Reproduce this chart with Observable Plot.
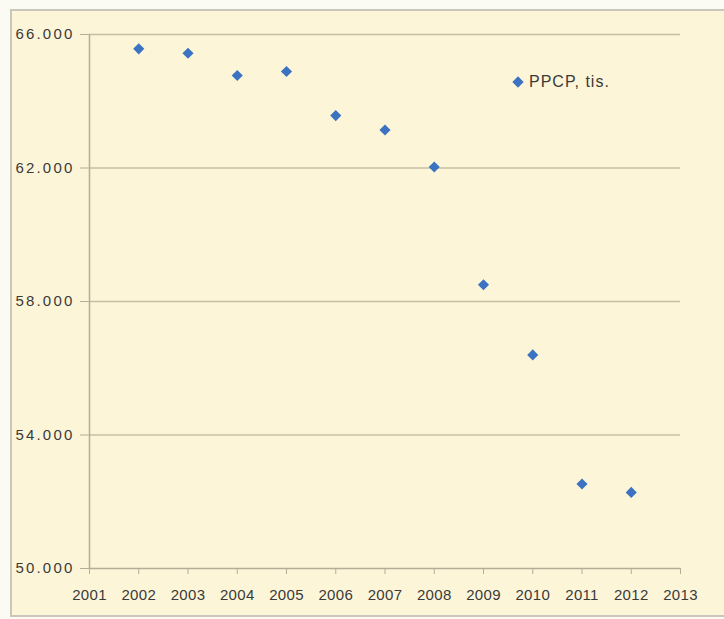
<!DOCTYPE html>
<html>
<head>
<meta charset="utf-8">
<script src="https://cdn.jsdelivr.net/npm/d3@7"></script>
<script src="https://cdn.jsdelivr.net/npm/@observablehq/plot@0.6"></script>
<style>
  html, body { margin: 0; padding: 0; background: #fbfaf3; overflow: hidden; width: 724px; height: 619px; }
  #frame {
    position: absolute; left: 10px; top: 9px;
    width: 712px; height: 604px;
    border: 2px solid #c9c6bb;
    background: #fdf5d8;
  }
  #legend {
    position: absolute; left: 502px; top: 62px;
    font-family: "Liberation Sans", Arial, sans-serif; font-size: 16px; color: #3a3a3a;
    letter-spacing: 1px;
    display: flex; align-items: center;
  }
  #legend .sw {
    display: inline-block; width: 8px; height: 8px; background: #3b73c2;
    transform: rotate(45deg); margin-right: 7px;
  }
  g[aria-label="y-axis tick label"] text { letter-spacing: 2.2px; }
  g[aria-label="x-axis tick label"] text { letter-spacing: 0.3px; }
</style>
</head>
<body>
<div id="frame"><div id="legend"><span class="sw"></span><span>PPCP, tis.</span></div></div>
<script>
const years = [2002, 2003, 2004, 2005, 2006, 2007, 2008, 2009, 2010, 2011, 2012];
const ppcp = [65570, 65440, 64770, 64890, 63570, 63140, 62030, 58500, 56400, 52530, 52280];
const seriesName = "PPCP, tis.";
const xTicks = [2001, 2002, 2003, 2004, 2005, 2006, 2007, 2008, 2009, 2010, 2011, 2012, 2013];
const yTicks = [50000, 54000, 58000, 62000, 66000];
const gridValues = [54000, 58000, 62000, 66000];

const data = years.map((y, i) => ({year: y, value: ppcp[i], series: seriesName}));
const loc = d3.formatLocale({decimal: ",", thousands: ".", grouping: [3], currency: ["", ""]});
const fmt = loc.format(",d");

const chart = Plot.plot({
  width: 712,
  height: 604,
  marginLeft: 77,
  marginTop: 23,
  marginBottom: 47,
  marginRight: 44,
  style: {background: "transparent", fontFamily: "Liberation Sans, Arial, sans-serif", fontSize: "15px", color: "#3a3a3a", overflow: "visible"},
  x: {domain: [2001, 2013], ticks: xTicks, tickFormat: d => String(d), label: null},
  y: {domain: [50000, 66000], ticks: yTicks, tickFormat: fmt, label: null},
  marks: [
    Plot.ruleY(gridValues, {stroke: "#c6bfa6", strokeWidth: 1.5}),
    Plot.ruleY([50000], {stroke: "#b5ad96", strokeWidth: 1.5}),
    Plot.ruleX([2001], {stroke: "#b5ad96", strokeWidth: 1.5}),
    Plot.axisX({ticks: xTicks, tickFormat: d => String(d), tickSize: 6, tickPadding: 15, stroke: "#b5ad96", fill: "#3a3a3a", label: null}),
    Plot.axisY({ticks: yTicks, tickFormat: fmt, tickSize: 9, tickPadding: 6, stroke: "#b5ad96", fill: "#3a3a3a", label: null}),
    Plot.dot(data, {x: "year", y: "value", symbol: "diamond2", r: 5, fill: "#3b73c2", stroke: null})
  ]
});
document.getElementById("frame").appendChild(chart);
chart.style.position = "absolute";
chart.style.left = "0px";
chart.style.top = "0px";
</script>
</body>
</html>
